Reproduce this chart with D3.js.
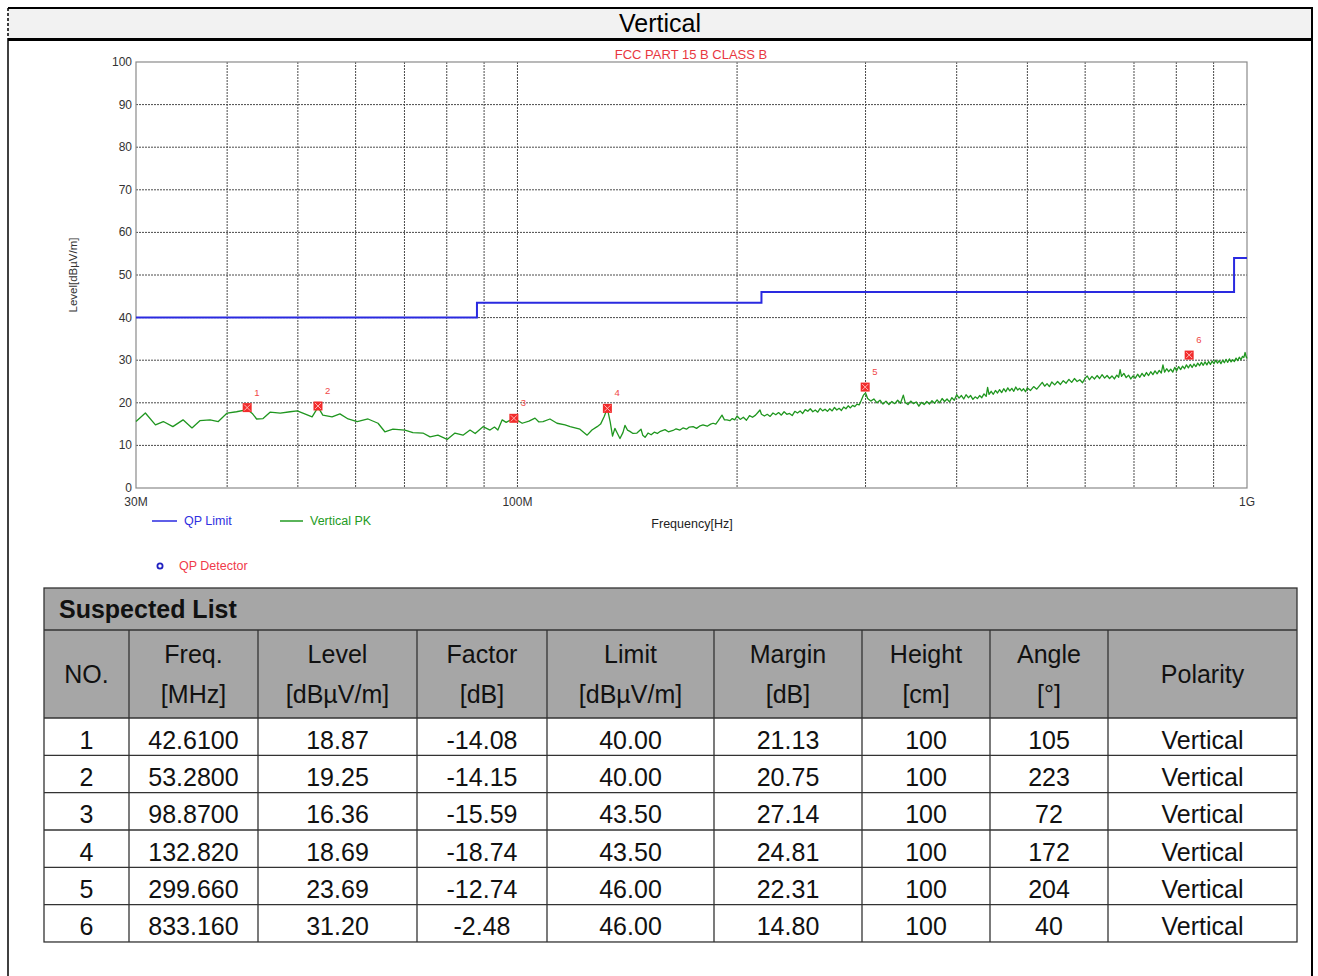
<!DOCTYPE html>
<html><head><meta charset="utf-8">
<script src="https://cdn.jsdelivr.net/npm/d3@7"></script>
<style>
body{margin:0;background:#fff;}
svg text{font-family:"Liberation Sans",Arial,Helvetica,sans-serif;}
</style>
</head><body>
<svg id="c" width="1318" height="976"></svg>
<script>
// ---------------- DATA ----------------
const panelTitle = "Vertical";
const chartTitle = "FCC PART 15 B CLASS B";
const yAxisTitle = "Level[dBµV/m]";
const xAxisTitle = "Frequency[Hz]";
const yTickValues = [0,10,20,30,40,50,60,70,80,90,100];
const xTickValues = [30,100,1000];
const xTickLabels = ["30M","100M","1G"];
const xGridValues = [40,50,60,70,80,90,100,200,300,400,500,600,700,800,900];

// QP limit (MHz, dBµV/m), step after
const limitFreq  = [30, 88, 216, 960, 1000];
const limitLevel = [40, 43.5, 46, 54, 54];

// Vertical PK trace [MHz, dBµV/m]
const pkTrace = [
[30,15.6],[30.9,17.6],[31.9,14.8],[32.7,15.6],[33.7,14.4],[34.8,16.0],[35.8,14.1],[36.7,15.8],[37.9,16.0],[38.9,15.6],
[40.0,17.6],[41.2,17.9],[42.3,18.3],[42.6,18.5],[43.3,17.5],[43.9,16.2],[44.8,16.3],[45.8,17.8],[47.3,17.6],[48.8,17.9],
[49.9,18.1],[51.1,17.4],[52.3,16.7],[53.3,19.0],[54.1,17.1],[55.7,16.7],[57.1,17.4],[58.6,16.2],[60.3,15.6],[62.4,16.2],
[64.4,15.2],[65.8,13.2],[67.5,13.8],[70.1,13.6],[71.9,13.0],[74.2,12.9],[75.9,12.0],[77.8,12.4],[80.1,11.4],[82.1,12.9],
[84.2,12.4],[86.1,13.6],[87.5,12.8],[89.7,14.4],[91.7,13.6],[93.0,14.3],[94.0,13.6],[95.3,16.0],[96.5,15.4],[98.9,16.4],
[101.5,15.2],[103.7,15.7],[105.7,16.4],[107.0,15.5],[108.4,15.6],[110.8,16.2],[113.3,15.2],[116.2,14.8],[118.1,14.4],[121.8,13.8],
[124.6,12.4],[126.5,13.6],[128.6,14.4],[130.0,15.0],[131.5,16.8],[132.8,18.7],[134.0,15.5],[135.0,12.2],[136.0,14.0],[137.0,12.9],
[138.2,11.6],[139.5,13.0],[140.4,14.7],[141.5,13.6],[142.6,13.3],[144.0,12.8],[145.8,12.9],[147.7,13.8],[148.5,12.4],[149.6,11.9],
[151,12.9],[152.5,12.5],[154,13.1],[155.5,12.8],[157,13.3],[159.3,13.7],[161,13.2],[163.4,13.5],[165,13.9],[167,13.6],
[168.6,14.1],[170.5,13.8],[172,14.3],[174.1,14.4],[176,14.0],[178,14.6],[179.6,14.8],[182,14.5],[184,15.0],[185.4,15.2],
[187,15.0],[188.5,15.8],[190.7,17.1],[192.2,16.0],[193.7,16.0],[195.5,15.8],[197,16.3],[198.5,16.0],
[200,16.9],[202,16.1],[204,16.6],[206,15.9],[208,17.0],[210,16.6],[212,17.1],[214,17.9],[215,18.3],[216,17.3],
[218,16.9],[220,17.3],[222,16.8],[224,17.6],[226,17.2],[228,17.7],[230,17.1],[232,17.9],[234,17.3],[236,17.5],
[238,17.0],[240,18.0],[242,17.6],[244,18.1],[246,17.5],[248,18.4],[250,18.0],[252,18.6],[254,17.9],[256,18.3],
[258,17.8],[260,18.7],[262,18.1],[264,18.5],[266,18.0],[268,18.6],[270,18.1],[272,18.9],[274,18.3],[276,18.7],
[278,18.2],[280,19.0],[282,18.6],[284,19.3],[286,18.8],[288,19.4],[290,19.1],[292,19.7],[294,19.5],[296,20.6],
[298,21.8],[300,22.3],[302,21.0],[305,20.4],[308,20.9],[311,20.0],[314,20.6],[317,19.7],[320,20.4],[323,19.6],
[326,20.3],[329,19.8],[332,20.6],[335,19.9],[338,21.8],[340,20.1],[343,19.6],[346,20.4],[349,19.8],[352,20.2],
[355,19.2],[358,20.1],[361,19.6],[364,20.3],[367,19.7],[370,20.5],[373,19.9],[376,20.7],[379,20.0],[382,21.0],
[385,20.3],[388,20.9],[391,20.2],[394,21.2],[397,20.6],[400,21.9],[403,21.1],[406,21.7],[409,20.9],[412,21.9],
[415,21.2],[418,21.7],[421,20.8],[424,21.4],[427,21.0],[430,21.7],[433,21.2],[436,22.1],[439,21.5],[441,23.6],
[443,22.0],[446,22.7],[449,22.0],[452,22.9],[455,22.3],[458,23.1],[461,22.4],[464,23.3],[467,22.6],[470,23.5],
[473,22.8],[476,23.4],[479,22.7],[482,23.7],[485,23.0],[488,23.4],[491,22.8],[494,23.3],[497,22.6],[500,23.5],
[505,22.9],[510,23.8],[515,23.2],[520,24.1],[524,24.8],[528,23.9],[532,24.5],[536,23.8],[540,24.9],[545,24.2],
[550,25.0],[555,24.3],[560,25.2],[565,24.6],[570,25.5],[575,24.8],[580,25.7],[585,25.0],[590,25.4],[595,24.7],
[600,25.8],[604,26.3],[608,25.4],[613,26.2],[618,25.6],[623,26.4],[628,25.7],[633,26.6],[638,25.8],[643,26.4],
[648,25.7],[653,26.3],[658,25.6],[663,26.5],[667,26.0],[670,27.8],[673,26.2],[678,26.9],[683,25.9],[688,26.5],
[693,25.6],[698,26.3],[703,25.8],[708,26.7],[713,26.0],[718,26.9],[723,26.2],[728,27.1],[733,26.4],[738,27.3],
[743,26.6],[748,27.5],[753,26.8],[758,27.6],[763,27.0],[767,28.9],[771,27.2],[776,28.0],[781,27.3],[786,27.9],
[791,27.2],[796,28.3],[801,27.5],[806,28.5],[811,27.8],[816,28.6],[821,28.0],[826,28.9],[831,28.2],[836,29.0],
[841,28.3],[846,29.1],[851,28.5],[856,29.3],[861,28.7],[866,29.5],[871,28.8],[876,29.6],[881,28.9],[886,29.7],
[891,29.0],[896,29.8],[901,29.2],[906,30.0],[911,29.3],[916,29.9],[921,29.2],[926,30.0],[931,29.4],[936,30.2],
[941,29.5],[946,30.3],[951,29.6],[956,30.1],[961,29.7],[966,30.5],[971,29.9],[976,30.7],[981,30.1],[986,30.9],
[990,30.6],[994,31.8],[997,30.9],[1000,30.4]
];

// Suspected list
const markerNo     = [1,2,3,4,5,6];
const markerFreq   = ["42.6100","53.2800","98.8700","132.820","299.660","833.160"];
const markerLevel  = ["18.87","19.25","16.36","18.69","23.69","31.20"];
const markerFactor = ["-14.08","-14.15","-15.59","-18.74","-12.74","-2.48"];
const markerLimit  = ["40.00","40.00","43.50","43.50","46.00","46.00"];
const markerMargin = ["21.13","20.75","27.14","24.81","22.31","14.80"];
const markerHeight = ["100","100","100","100","100","100"];
const markerAngle  = ["105","223","72","172","204","40"];
const markerPol    = ["Vertical","Vertical","Vertical","Vertical","Vertical","Vertical"];

const tableTitle = "Suspected List";
const headLine1 = ["NO.","Freq.","Level","Factor","Limit","Margin","Height","Angle","Polarity"];
const headLine2 = ["","[MHz]","[dBµV/m]","[dB]","[dBµV/m]","[dB]","[cm]","[°]",""];
const legendItems = ["QP Limit","Vertical PK","QP Detector"];

// ---------------- DRAW ----------------
const svg = d3.select("#c");
svg.append("rect").attr("width",1318).attr("height",976).attr("fill","#fff");

// outer frame
svg.append("rect").attr("x",8).attr("y",8).attr("width",1304).attr("height",32).attr("fill","#f2f2f2");
svg.append("line").attr("x1",8).attr("x2",1313).attr("y1",8).attr("y2",8).attr("stroke","#000").attr("stroke-width",2);
svg.append("line").attr("x1",8).attr("x2",1313).attr("y1",39.5).attr("y2",39.5).attr("stroke","#000").attr("stroke-width",3);
svg.append("line").attr("x1",8).attr("x2",8).attr("y1",8).attr("y2",40).attr("stroke","#000").attr("stroke-width",1.5).attr("stroke-dasharray","3,2");
svg.append("line").attr("x1",8).attr("x2",8).attr("y1",40).attr("y2",976).attr("stroke","#000").attr("stroke-width",1.5);
svg.append("line").attr("x1",1312).attr("x2",1312).attr("y1",8).attr("y2",976).attr("stroke","#000").attr("stroke-width",2);
svg.append("text").attr("x",660).attr("y",32).attr("text-anchor","middle").attr("font-size",25).attr("fill","#000").text(panelTitle);

// scales
const x = d3.scaleLog().domain([30,1000]).range([136,1247]);
const y = d3.scaleLinear().domain([0,100]).range([488,62]);

// grid
const g = svg.append("g");
g.selectAll(".hg").data(yTickValues.filter(v=>v>0&&v<100)).join("line")
 .attr("x1",136).attr("x2",1247).attr("y1",d=>y(d)).attr("y2",d=>y(d))
 .attr("stroke","#4a4a4a").attr("stroke-width",1).attr("stroke-dasharray","2,1");
g.selectAll(".vg").data(xGridValues).join("line")
 .attr("x1",d=>x(d)).attr("x2",d=>x(d)).attr("y1",62).attr("y2",488)
 .attr("stroke","#4a4a4a").attr("stroke-width",1).attr("stroke-dasharray","2,1");
g.append("rect").attr("x",136).attr("y",62).attr("width",1111).attr("height",426)
 .attr("fill","none").attr("stroke","#8a8a8a").attr("stroke-width",1.2);

// y axis labels
g.selectAll(".yl").data(yTickValues).join("text")
 .attr("x",132).attr("y",d=>y(d)+4).attr("text-anchor","end").attr("font-size",12).attr("fill","#333")
 .text(d=>d);
// x axis labels
g.selectAll(".xl").data(xTickValues).join("text")
 .attr("x",d=>x(d)).attr("y",506).attr("text-anchor","middle").attr("font-size",12).attr("fill","#333")
 .text((d,i)=>xTickLabels[i]);
g.append("text").attr("transform","translate(77,275) rotate(-90)").attr("text-anchor","middle")
 .attr("font-size",11.5).attr("fill","#333").text(yAxisTitle);
g.append("text").attr("x",692).attr("y",528).attr("text-anchor","middle").attr("font-size",12.5).attr("fill","#222").text(xAxisTitle);
g.append("text").attr("x",691).attr("y",59).attr("text-anchor","middle").attr("font-size",13).attr("fill","#e8373f").text(chartTitle);

// limit line
const limitPts = limitFreq.map((f,i)=>[f,limitLevel[i]]);
g.append("path").datum(limitPts)
 .attr("d",d3.line().x(d=>x(d[0])).y(d=>y(d[1])).curve(d3.curveStepAfter))
 .attr("fill","none").attr("stroke","#2a2ae0").attr("stroke-width",2);

// trace
g.append("path").datum(pkTrace)
 .attr("d",d3.line().x(d=>x(d[0])).y(d=>y(d[1])))
 .attr("fill","none").attr("stroke","#1f961f").attr("stroke-width",1.3).attr("stroke-linejoin","round");

// markers
const mk = g.selectAll(".mk").data(markerNo).join("g")
 .attr("transform",(d,i)=>`translate(${x(+markerFreq[i])},${y(+markerLevel[i])})`);
mk.append("rect").attr("x",-4.5).attr("y",-4.5).attr("width",9).attr("height",9).attr("fill","#f22c2c");
mk.append("path").attr("d","M-3,-3L3,3M3,-3L-3,3").attr("stroke","#ffb3b3").attr("stroke-width",1);
mk.append("text").attr("x",7).attr("y",-12).attr("font-size",9.5).attr("fill","#f04848").text(d=>d);

// legend
g.append("line").attr("x1",152).attr("x2",177).attr("y1",521).attr("y2",521).attr("stroke","#2a2ae0").attr("stroke-width",1.5);
g.append("text").attr("x",184).attr("y",525).attr("font-size",12.5).attr("fill","#3030e0").text(legendItems[0]);
g.append("line").attr("x1",280).attr("x2",303).attr("y1",521).attr("y2",521).attr("stroke","#239b23").attr("stroke-width",1.5);
g.append("text").attr("x",310).attr("y",525).attr("font-size",12.5).attr("fill","#239b23").text(legendItems[1]);
g.append("circle").attr("cx",160).attr("cy",566).attr("r",2.6).attr("fill","none").attr("stroke","#2020c0").attr("stroke-width",1.8);
g.append("text").attr("x",179).attr("y",570).attr("font-size",12.5).attr("fill","#f03a4a").text(legendItems[2]);

// ---------------- TABLE ----------------
const colEdges = [44,129,258,417,547,714,862,990,1108,1297];
const rowTop = 588, headTop = 630, bodyTop = 718, rowH = 37.33;
const t = svg.append("g");
t.append("rect").attr("x",44).attr("y",rowTop).attr("width",1253).attr("height",bodyTop-rowTop).attr("fill","#a6a6a6");
t.append("text").attr("x",59).attr("y",618).attr("font-size",25).attr("font-weight","bold").attr("fill","#111").text(tableTitle);

const centers = colEdges.slice(0,-1).map((e,i)=>(e+colEdges[i+1])/2);
headLine1.forEach((h,i)=>{
  const two = headLine2[i] !== "";
  t.append("text").attr("x",centers[i]).attr("y",two?663:683).attr("text-anchor","middle")
   .attr("font-size",25).attr("fill","#111").text(h);
  if(two) t.append("text").attr("x",centers[i]).attr("y",703).attr("text-anchor","middle")
   .attr("font-size",25).attr("fill","#111").text(headLine2[i]);
});
const cols = [markerNo,markerFreq,markerLevel,markerFactor,markerLimit,markerMargin,markerHeight,markerAngle,markerPol];
markerNo.forEach((n,r)=>{
  cols.forEach((c,i)=>{
    t.append("text").attr("x",centers[i]).attr("y",bodyTop+rowH*r+rowH/2+12).attr("text-anchor","middle")
     .attr("font-size",25).attr("fill","#111").text(c[r]);
  });
});
// grid lines
const tableBottom = bodyTop + rowH*6;
const ls = "#333", lw = 1.3;
t.append("rect").attr("x",44).attr("y",rowTop).attr("width",1253).attr("height",tableBottom-rowTop)
 .attr("fill","none").attr("stroke",ls).attr("stroke-width",lw);
[headTop,bodyTop].concat(d3.range(1,6).map(k=>bodyTop+rowH*k)).forEach(yy=>{
  t.append("line").attr("x1",44).attr("x2",1297).attr("y1",yy).attr("y2",yy).attr("stroke",ls).attr("stroke-width",lw);
});
colEdges.slice(1,-1).forEach(xx=>{
  t.append("line").attr("x1",xx).attr("x2",xx).attr("y1",headTop).attr("y2",tableBottom).attr("stroke",ls).attr("stroke-width",lw);
});
</script>
</body></html>
